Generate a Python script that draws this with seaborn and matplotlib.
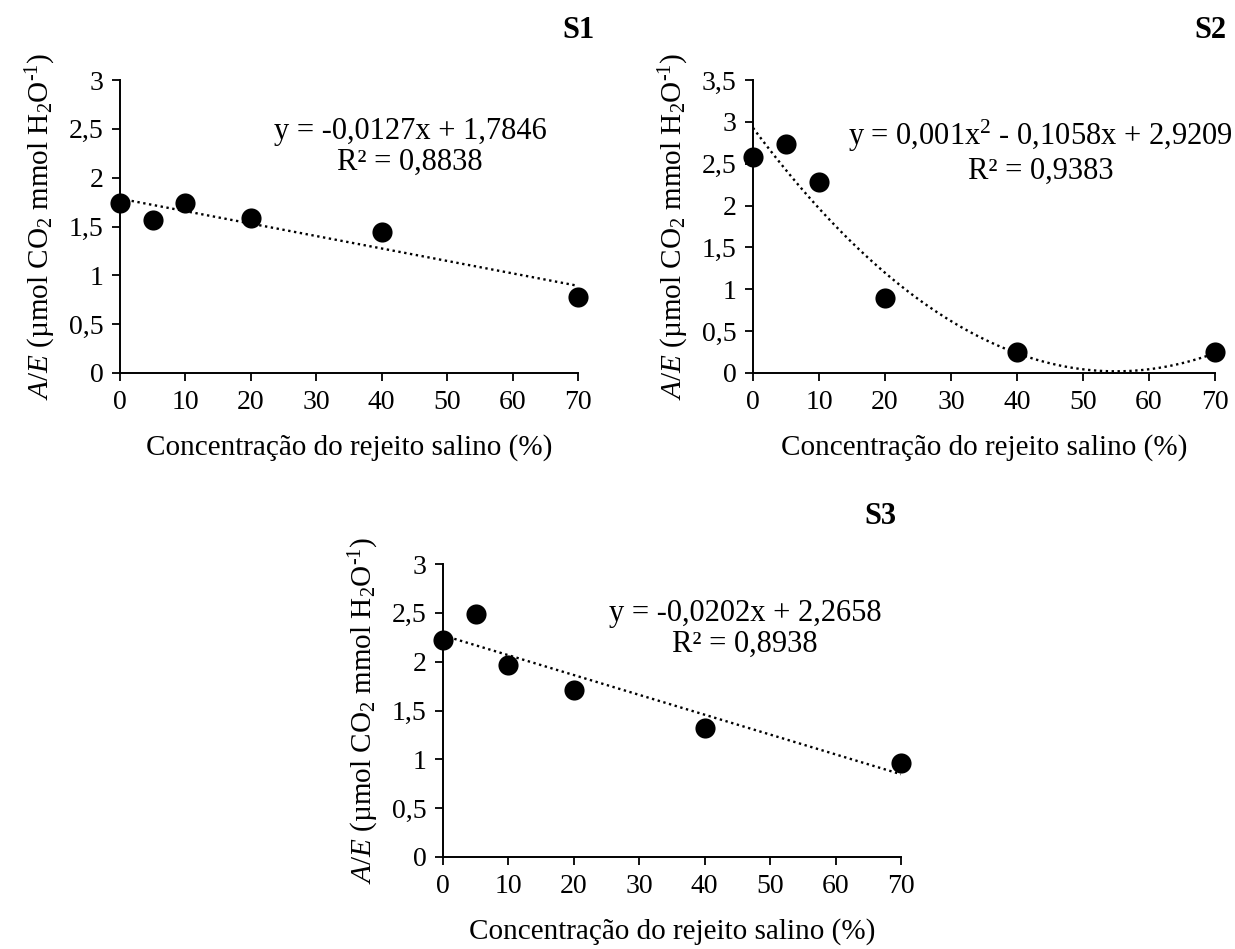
import numpy as np
import pandas as pd
import matplotlib
matplotlib.use("Agg")
import matplotlib.pyplot as plt
import seaborn as sns

# Salt-reject concentration (%) and A/E values for the three soils
concentracao = [0, 5, 10, 20, 40, 70]
ae_s1 = [1.74, 1.57, 1.74, 1.59, 1.44, 0.78]
ae_s2 = [2.58, 2.74, 2.28, 0.89, 0.25, 0.25]
ae_s3 = [2.22, 2.49, 1.97, 1.71, 1.32, 0.96]

paineis = ["S1", "S2", "S3"]
equacoes = [
    "y = -0,0127x + 1,7846\nR² = 0,8838",
    "y = 0,001x$^{2}$ - 0,1058x + 2,9209\nR² = 0,9383",
    "y = -0,0202x + 2,2658\nR² = 0,8938",
]
ordens = [1, 2, 1]
y_max = [3.0, 3.5, 3.0]
x_ticks = [0, 10, 20, 30, 40, 50, 60, 70]

sns.set_theme(style="ticks")
plt.rcParams["font.family"] = ["Liberation Serif", "DejaVu Serif"]
plt.rcParams["mathtext.fontset"] = "custom"
plt.rcParams["mathtext.rm"] = "Liberation Serif"
plt.rcParams["mathtext.it"] = "Liberation Serif:italic"
plt.rcParams["axes.unicode_minus"] = False

fig = plt.figure(figsize=(12.35, 9.49), dpi=100)

W, H = 1235, 949
# axes boxes in pixels: left, top, right, bottom
caixas = [(120, 80, 578, 373), (753, 80, 1215, 373), (443, 564, 901, 857)]
eq_pos = [(0.633, 0.771), (0.623, 0.755), (0.659, 0.778)]
titulos = [(578, 30), (1210, 30), (880, 517)]

fs_tick = 20
fs_label = 21
fs_eq = 22
fs_title = 22

for i, (l, t, r, b) in enumerate(caixas):
    ax = fig.add_axes([l / W, 1 - b / H, (r - l) / W, (b - t) / H])
    df = pd.DataFrame({"x": concentracao, "y": [ae_s1, ae_s2, ae_s3][i]})
    sns.regplot(
        data=df, x="x", y="y", order=ordens[i], ci=None, ax=ax,
        scatter_kws={"s": 210, "color": "black", "clip_on": False,
                     "zorder": 3, "alpha": 1, "linewidths": 0},
        line_kws={"color": "black", "linestyle": (0, (1, 1.5)),
                  "linewidth": 1.7, "zorder": 2},
    )
    ax.set_xlim(0, 70)
    ax.set_ylim(0, y_max[i])
    ax.set_xticks(x_ticks)
    ax.set_xticklabels([str(v) for v in x_ticks])
    yt = np.arange(0, y_max[i] + 0.01, 0.5)
    ax.set_yticks(yt)
    ax.set_yticklabels([("%g" % v).replace(".", ",") for v in yt])
    ax.tick_params(axis="both", direction="out", length=6, width=1.3,
                   colors="black", labelsize=fs_tick, pad=6)
    for s in ["left", "bottom"]:
        ax.spines[s].set_linewidth(1.4)
        ax.spines[s].set_color("black")
    sns.despine(ax=ax)
    ax.set_xlabel("Concentração do rejeito salino (%)", fontsize=fs_label,
                  color="black")
    ax.set_ylabel(r"$\it{A/E}$ (µmol CO$_2$ mmol H$_2$O$^{\text{-1}}$)",
                  fontsize=fs_label, color="black")
    ax.xaxis.label.set_va("center")
    ax.xaxis.set_label_coords(0.5, -0.256)
    ax.yaxis.label.set_va("center")
    ax.yaxis.set_label_coords(-0.172, 0.5)
    ax.text(eq_pos[i][0], eq_pos[i][1], equacoes[i], transform=ax.transAxes,
            ha="center", va="center", multialignment="center",
            fontsize=fs_eq, color="black", linespacing=1.1)
    fig.text(titulos[i][0] / W, 1 - titulos[i][1] / H, paineis[i],
             ha="center", va="center", fontsize=fs_title, fontweight="bold",
             color="black")

fig.savefig("out.png", dpi=100, facecolor="white")
